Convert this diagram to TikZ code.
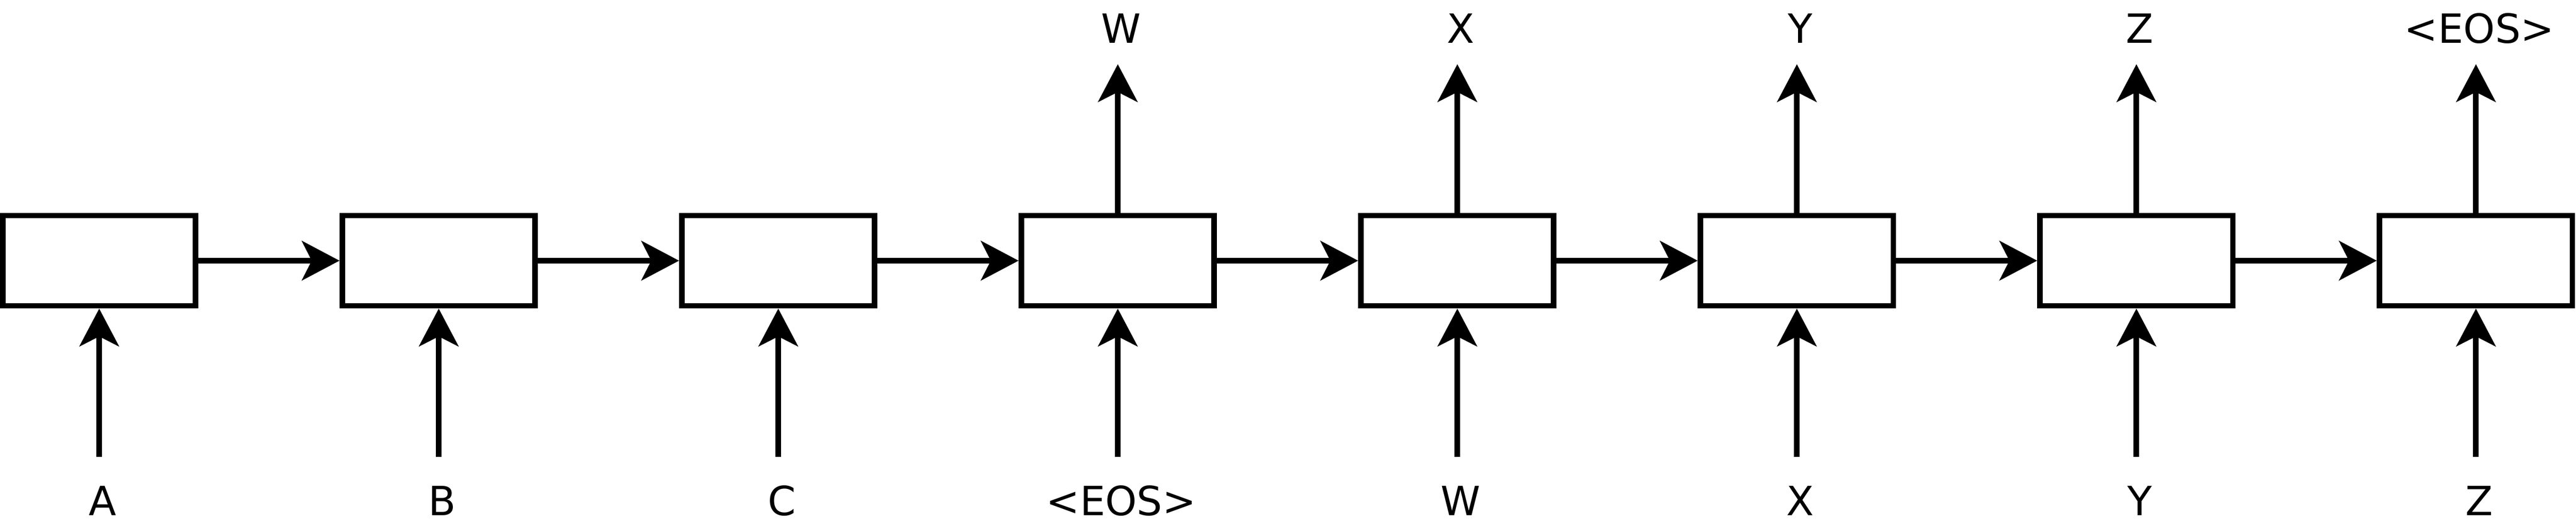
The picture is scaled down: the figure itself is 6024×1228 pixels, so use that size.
\documentclass[tikz,border=0pt]{standalone}
\usepackage{fontspec}
\setmainfont{DejaVu Sans}
\usetikzlibrary{arrows.meta}
\begin{document}
\begin{tikzpicture}[x=0.1pt,y=-0.1pt,
  cell/.style={draw=black, line width=1.3pt, minimum width=45.1pt, minimum height=21.1pt, inner sep=0pt},
  conn/.style={line width=1.3pt, -{Stealth[length=8.8pt,width=9.2pt,inset=2.3pt]}},
  lbl/.style={font=\fontsize{9.4pt}{11pt}\selectfont, anchor=base, inner sep=0pt}]
\useasboundingbox (0,0) rectangle (6024,1228);
\foreach \i in {0,...,7} {
  \node[cell] (b\i) at ({232+794*\i},609) {};
}
\foreach \i [evaluate=\i as \j using int(\i+1)] in {0,...,6} {
  \draw[conn] (b\i.east) -- (b\j.west);
}
\foreach \i/\t in {0/A,1/B,2/C,3/{<EOS>},4/W,5/X,6/Y,7/Z} {
  \node[lbl] (inl\i) at ({240+794*\i},1204) {\t};
  \coordinate (ins\i) at ({232+794*\i},1067);
  \draw[conn] (ins\i) -- (b\i.south);
}
\foreach \i/\t in {3/W,4/X,5/Y,6/Z,7/{<EOS>}} {
  \node[lbl] (outl\i) at ({240+794*\i},100) {\t};
  \coordinate (outs\i) at ({232+794*\i},150);
  \draw[conn] (b\i.north) -- (outs\i);
}
\end{tikzpicture}
\end{document}
